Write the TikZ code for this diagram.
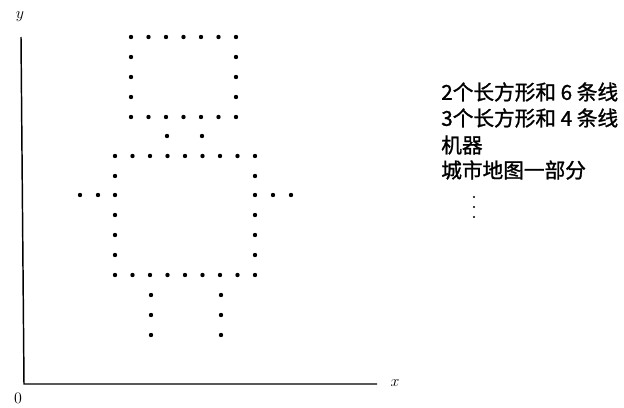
\documentclass[tikz,border=0pt]{standalone}
\usepackage{amsmath,amssymb}
\usepackage{fontspec}
\usepackage{tikz}
\newfontfamily\cjk[FakeBold=1.2]{Noto Sans CJK SC}

\tikzset{
  pix/.style={fill=black,draw=none},
  axis/.style={line width=1.1pt},
  axlbl/.style={inner sep=0.75pt,font=\large},
  lbl/.style={anchor=west,inner sep=0.75pt,font=\cjk\fontsize{15.5}{19.5}\selectfont}
}

\begin{document}
\begin{tikzpicture}[x=0.75pt,y=0.75pt,yscale=-1,xscale=1]
    \useasboundingbox (0,0) rectangle (624,407);

    %Axes
    \coordinate (ytop) at (21,37);
    \coordinate (orig) at (24,384);
    \coordinate (xend) at (377,384);
    \draw [axis] (ytop) -- (orig) -- (xend) ;
    % Text Node
    \node (ylab) [axlbl] at (20,17) {$y$};
    % Text Node
    \node (xlab) [axlbl] at (395,383) {$x$};
    % Text Node
    \node (olab) [axlbl] at (18,398) {0};

    %Shape: dotted head (7 x 5)
    \foreach \i in {0,...,6} {
        \fill [pix] (131+17.5*\i,37) circle (2.2) ;
        \fill [pix] (131+17.5*\i,117) circle (2.2) ;
    }
    \foreach \y in {57,77,97} {
        \fill [pix] (131,\y) circle (2.2) ;
        \fill [pix] (236,\y) circle (2.2) ;
    }
    %Shape: neck
    \fill [pix] (167,136) circle (2.2) ;
    \fill [pix] (202,136) circle (2.2) ;

    %Shape: dotted body (9 x 7)
    \foreach \i in {0,...,8} {
        \fill [pix] (115+17.5*\i,156) circle (2.2) ;
        \fill [pix] (115+17.5*\i,275) circle (2.2) ;
    }
    \foreach \y in {176,195,215,235,255} {
        \fill [pix] (115,\y) circle (2.2) ;
        \fill [pix] (255,\y) circle (2.2) ;
    }
    %Shape: arms
    \foreach \x in {80,98,273,291}
        \fill [pix] (\x,195) circle (2.2) ;
    %Shape: legs
    \foreach \y in {295,315,335} {
        \fill [pix] (151,\y) circle (2.2) ;
        \fill [pix] (221,\y) circle (2.2) ;
    }

    % Text Node
    \node (rect2) [lbl] at (440,92) {2个长方形和 6 条线};
    % Text Node
    \node (rect3) [lbl] at (440,118) {3个长方形和 4 条线};
    % Text Node
    \node (robot) [lbl] at (440,145) {机器};
    % Text Node
    \node (citymap) [lbl] at (440,170) {城市地图一部分};
    %more below
    \foreach \y in {197,207,217}
        \fill [pix] (474,\y) circle (1.2) ;

\end{tikzpicture}
\end{document}
